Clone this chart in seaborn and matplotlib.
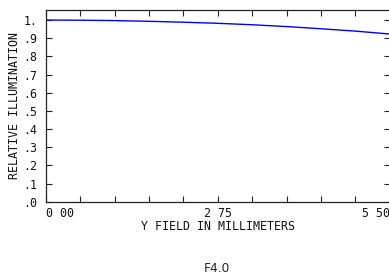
import numpy as np
import pandas as pd
import seaborn as sns
import matplotlib.pyplot as plt
from matplotlib.ticker import MultipleLocator

# values
field = [0.0, 0.55, 1.1, 1.65, 2.2, 2.75, 3.3, 3.85, 4.4, 4.95, 5.5]
illum = [1.0, 0.999, 0.997, 0.993, 0.988, 0.982, 0.974, 0.964, 0.952, 0.939, 0.923]
xticks = [0.0, 2.75, 5.5]
xlabels = ["0 00", "2 75", "5 50"]
yticks = [0.0, 0.1, 0.2, 0.3, 0.4, 0.5, 0.6, 0.7, 0.8, 0.9, 1.0]
ylabels = [".0", ".1", ".2", ".3", ".4", ".5", ".6", ".7", ".8", ".9", "1."]

sns.set_style("ticks")
plt.rcParams['font.family'] = ['DejaVu Sans Mono']

d = pd.DataFrame({"field": field, "illum": illum})

fig = plt.figure(figsize=(3.89, 2.79), dpi=100)
ax = fig.add_axes([0.118, 0.277, 0.884, 0.687])
sns.lineplot(data=d, x="field", y="illum", color="#0000ff", linewidth=1.0, ax=ax)

fs = 8.4
ax.set_xlim(0, 5.5)
ax.set_ylim(0, 1.055)
ax.set_xticks(xticks)
ax.set_xticklabels(xlabels, fontsize=fs)
ax.xaxis.set_minor_locator(MultipleLocator(0.55))
ax.set_yticks(yticks)
ax.set_yticklabels(ylabels, fontsize=fs)
labs = ax.get_xticklabels()
labs[0].set_ha("left")
labs[-1].set_ha("right")

ax.tick_params(which="both", direction="in", top=True, right=True,
               length=4, width=0.8, colors="#222222", labelcolor="#111111")
ax.tick_params(axis="x", which="major", pad=4)
ax.tick_params(axis="y", pad=6)
for s in ax.spines.values():
    s.set_linewidth(0.9)
    s.set_color("#222222")

ax.set_xlabel("Y FIELD IN MILLIMETERS", fontsize=fs, labelpad=0, color="#111111")
ax.set_ylabel("RELATIVE ILLUMINATION", fontsize=fs, color="#111111")
ax.yaxis.set_label_coords(-0.072, 0.5)
fig.text(0.558, 0.025, "F4.0", fontsize=8.8, ha="center", family="DejaVu Sans", color="#222222")

fig.savefig("out.png", dpi=100)
